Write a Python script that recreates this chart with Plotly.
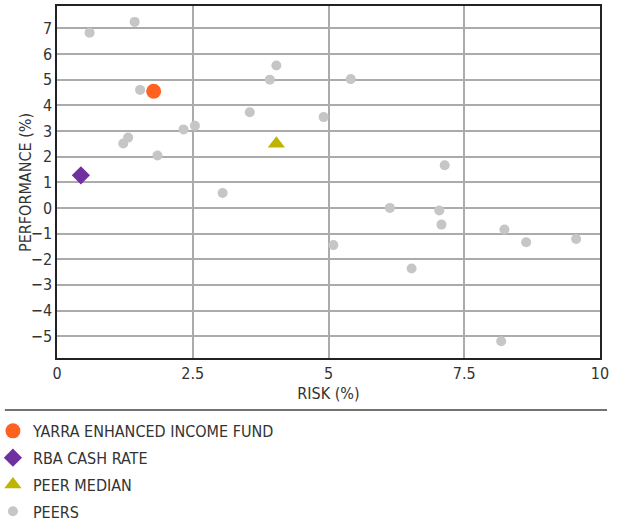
import plotly.graph_objects as go

# Risk / performance (%) for each group
fund_risk = [1.78]
fund_perf = [4.55]

cash_risk = [0.44]
cash_perf = [1.27]

median_risk = [4.04]
median_perf = [2.50]

peer_risk = [0.60, 1.43, 1.53, 1.31, 1.22, 1.85, 2.33, 2.54, 3.55, 3.92, 4.04, 3.05,
             4.91, 5.41, 7.14, 6.13, 7.04, 7.08, 5.09, 6.53, 8.24, 8.64, 9.56, 8.18]
peer_perf = [6.83, 7.25, 4.60, 2.74, 2.51, 2.04, 3.06, 3.20, 3.73, 5.00, 5.55, 0.58,
             3.54, 5.02, 1.66, 0.00, -0.10, -0.65, -1.45, -2.36, -0.84, -1.34, -1.21, -5.20]

x_ticks = [0, 2.5, 5, 7.5, 10]
x_tick_labels = ["0", "2.5", "5", "7.5", "10"]
y_ticks = [7, 6, 5, 4, 3, 2, 1, 0, -1, -2, -3, -4, -5]

FONT = "DejaVu Sans Condensed"
TEXT = "#333333"

fig = go.Figure()

# peers drawn first so the highlighted markers sit on top
fig.add_trace(go.Scatter(
    x=peer_risk, y=peer_perf, mode="markers", name="PEERS",
    legendgroup="peers", legendrank=4,
    marker=dict(color="#c6c6c6", size=10, symbol="circle"),
))
fig.add_trace(go.Scatter(
    x=median_risk, y=median_perf, mode="markers", name="PEER MEDIAN",
    legendgroup="median", legendrank=3,
    marker=dict(color="#bdb500", size=15, symbol="triangle-up"),
))
fig.add_trace(go.Scatter(
    x=cash_risk, y=cash_perf, mode="markers", name="RBA CASH RATE",
    legendgroup="cash", legendrank=2,
    marker=dict(color="#7030a0", size=14, symbol="diamond"),
))
fig.add_trace(go.Scatter(
    x=fund_risk, y=fund_perf, mode="markers", name="YARRA ENHANCED INCOME FUND",
    legendgroup="fund", legendrank=1,
    marker=dict(color="#ff6220", size=15, symbol="circle"),
))

fig.update_layout(
    width=628, height=522,
    margin=dict(l=57, r=28, t=6, b=164, autoexpand=False),
    paper_bgcolor="white", plot_bgcolor="white",
    font=dict(family=FONT, size=16, color=TEXT),
    showlegend=True,
    legend=dict(
        orientation="v", traceorder="grouped", tracegroupgap=3,
        x=-0.118, xanchor="left", y=-0.159, yanchor="top",
        font=dict(family=FONT, size=16, color=TEXT),
        bgcolor="rgba(0,0,0,0)", itemwidth=30,
    ),
    xaxis=dict(
        range=[0, 10], tickvals=x_ticks, ticktext=x_tick_labels,
        showgrid=True, gridcolor="#ababab", gridwidth=1.5,
        showline=True, linecolor="#222222", linewidth=1.5, mirror=True,
        zeroline=False, ticks="", tickfont=dict(size=16, color=TEXT),
        title=dict(text="RISK (%)", font=dict(size=16, color=TEXT), standoff=6),
    ),
    yaxis=dict(
        range=[-5.85, 7.87], tickvals=y_ticks,
        showgrid=True, gridcolor="#ababab", gridwidth=1.5,
        showline=True, linecolor="#222222", linewidth=1.5, mirror=True,
        zeroline=False, ticks="", tickfont=dict(size=16, color=TEXT),
    ),
    annotations=[dict(
        text="PERFORMANCE (%)", textangle=-90, showarrow=False,
        xref="paper", yref="paper", x=-0.059, y=0.5,
        xanchor="center", yanchor="middle",
        font=dict(family=FONT, size=16, color=TEXT),
    )],
    shapes=[dict(
        type="line", xref="paper", yref="paper",
        x0=-0.096, x1=1.013, y0=-0.148, y1=-0.148,
        line=dict(color="#444444", width=1.5),
    )],
)

fig.write_html("out.html")
